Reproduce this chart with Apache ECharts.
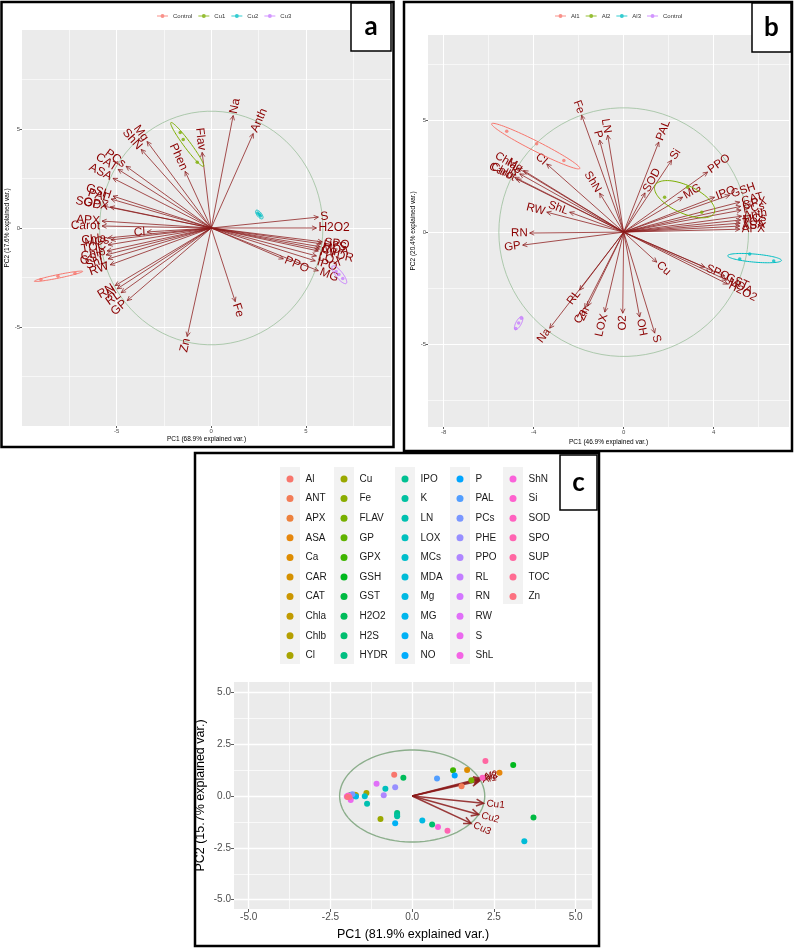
<!DOCTYPE html>
<html>
<head>
<meta charset="utf-8">
<title>PCA biplots</title>
<script src="https://cdn.jsdelivr.net/npm/echarts@6/dist/echarts.min.js"></script>
<style>
  html, body { margin: 0; padding: 0; background: #fff; }
  #main { width: 794px; height: 948px; }
</style>
</head>
<body>
<div id="main"></div>
<script>
// ---------- panel a : Cu ----------
var aVarNames = ['Mg','ShN','Phen','Flav','Na','Anth','PCs','CAT','ASA','GSH','PAL','SOD','GPX','APX','Carot','Cl','Chla','MCs','TOC','Chlb','GST','ShL','RW','RN','Al','RL','GP','Zn','Fe','S','H2O2','SPO','H2S','MDA','Cu','HYDR','LOX','IPO','PPO','MG'];
var aVarPC1 = [-3.39,-3.7,-1.38,-0.48,1.16,2.22,-4.5,-4.92,-5.19,-5.19,-5.29,-5.71,-5.34,-5.77,-5.77,-3.39,-5.45,-5.29,-5.45,-5.5,-5.56,-5.45,-5.34,-5.08,-4.97,-4.76,-4.44,-1.27,1.27,5.66,5.56,5.87,5.82,5.77,5.72,5.66,5.56,5.5,3.81,5.66];
var aVarPC2 = [4.37,3.97,2.86,3.82,5.68,4.77,3.12,2.96,2.51,1.61,1.46,1.11,1.06,0.35,0.1,-0.2,-0.5,-0.6,-0.85,-1.16,-1.36,-1.56,-1.86,-2.91,-3.07,-3.27,-3.67,-5.48,-3.72,0.55,0.0,-0.7,-0.8,-0.95,-1.06,-1.16,-1.41,-1.66,-1.56,-2.16];
var aGroups = ['Control','Cu1','Cu2','Cu3'];
var aObsPC1 = [[-9.0,-8.1,-7.2],[-1.64,-1.48,-0.74],[2.46,2.54,2.6],[6.6,6.75,6.95]];
var aObsPC2 = [[-2.6,-2.44,-2.28],[4.82,4.47,3.32],[0.76,0.68,0.6],[-2.2,-2.35,-2.55]];
var aEllCx = [-8.07,-1.27,2.54,6.77];
var aEllCy = [-2.44,4.22,0.68,-2.36];
var aEllRx = [1.3,1.4,0.27,0.57];
var aEllRy = [0.09,0.18,0.12,0.18];
var aEllRot = [11,-52,-50,-50];
var aCircleR = 5.9;
var aXLines = [-7.5,-5,-2.5,0,2.5,5,7.5];
var aYLines = [-7.5,-5,-2.5,0,2.5,5,7.5];
var aXTicks = [-5,0,5];
var aYTicks = [-5,0,5];

// ---------- panel b : Al ----------
var bVarNames = ['Fe','P','LN','Cl','ShN','Chla','Mg','K','Chlb','Carot','PAL','Si','SOD','PPO','MG','IPO','GSH','CAT','GPX','PCs','Anth','MCs','TOC','ASA','APX','Cu','SPO','GST','MDA','H2O2','LOX','O2','OH','S','RW','ShL','RN','GP','RL','Na','Ca','Zn'];
var bVarPC1 = [-1.87,-1.07,-0.71,-3.42,-1.07,-4.71,-4.45,-4.62,-4.85,-4.76,1.56,2.13,0.95,3.73,2.62,4.04,4.71,5.16,5.2,5.22,5.24,5.2,5.18,5.16,5.16,1.47,3.6,4.49,4.58,4.62,-0.84,-0.04,0.71,1.38,-3.42,-2.4,-4.18,-4.49,-1.96,-3.29,-1.73,-1.6];
var bVarPC2 = [5.22,4.11,4.33,3.04,1.74,2.86,2.75,2.6,2.45,2.37,4.02,3.21,1.75,2.68,1.56,1.56,1.65,1.34,1.15,0.98,0.71,0.54,0.4,0.27,0.13,-1.34,-1.56,-1.96,-2.14,-2.32,-3.57,-3.62,-3.79,-4.51,0.89,0.89,-0.04,-0.58,-2.59,-4.29,-3.39,-3.3];
var bGroups = ['Al1','Al2','Al3','Control '];
var bObsPC1 = [[-5.2,-3.87,-2.66],[1.82,2.84,3.47],[5.16,5.6,6.67],[-4.8,-4.67,-4.55]];
var bObsPC2 = [[4.5,3.95,3.2],[1.56,2.0,0.89],[-1.2,-0.98,-1.29],[-4.3,-4.06,-3.85]];
var bEllCx = [-3.91,2.71,5.82,-4.67];
var bEllCy = [3.84,1.47,-1.16,-4.06];
var bEllRx = [2.2,1.45,1.2,0.33];
var bEllRy = [0.22,0.62,0.18,0.12];
var bEllRot = [-27,-25,-5,62];
var bCircleR = 5.55;
var bXLines = [-8,-6,-4,-2,0,2,4,6];
var bYLines = [-7.5,-5,-2.5,0,2.5,5,7.5];
var bXTicks = [-8,-4,0,4];
var bYTicks = [-5,0,5];

// ---------- panel c ----------
var cNames = ['Al','ANT','APX','ASA','Ca','CAR','CAT','Chla','Chlb','Cl','Cu','Fe','FLAV','GP','GPX','GSH','GST','H2O2','H2S','HYDR','IPO','K','LN','LOX','MCs','MDA','Mg','MG','Na','NO','P','PAL','PCs','PHE','PPO','RL','RN','RW','S','ShL','ShN','Si','SOD','SPO','SUP','TOC','Zn'];
var cPC1 = [-0.55,1.51,-1.95,2.67,1.68,-1.8,-1.85,-1.75,-1.72,-1.4,-0.97,-1.78,1.81,-1.88,1.25,3.09,3.71,-0.27,0.61,-0.46,-0.46,-0.46,-1.38,-0.82,-1.45,3.43,0.31,-1.72,-0.52,-1.9,1.3,0.76,-1.83,-0.52,-0.87,-1.93,-1.97,-1.09,-1.88,-2.0,0.79,-1.95,2.15,1.08,2.24,-1.92,-1.98];
var cPC2 = [1.03,0.47,-0.02,1.12,1.26,0.02,-0.03,0.06,0.04,0.14,-1.11,0.0,0.76,0.05,1.24,1.5,-1.04,0.88,-1.37,-0.82,-0.9,-0.97,-0.37,0.35,-0.01,-2.18,-1.18,-0.02,-1.31,0.02,0.99,0.85,0.08,0.42,0.04,-0.03,0.0,0.59,-0.19,-0.02,-1.5,0.02,0.88,-1.68,1.69,-0.06,-0.05];
var cArrowNames = ['Al1','Al2','Al3','Cu1','Cu2','Cu3'];
var cArrowPC1 = [2.05,2.1,2.08,2.18,2.03,1.8];
var cArrowPC2 = [0.72,0.85,0.8,-0.35,-0.89,-1.32];
var cCircleR = 2.22;
var cLines = [-5,-3.75,-2.5,-1.25,0,1.25,2.5,3.75,5];
var cTicks = [-5,-2.5,0,2.5,5];

var FONT = '"Liberation Sans", Arial, Helvetica, sans-serif';
var ARROW = '#8b1a1a';
var LABEL = '#8b0000';
var GROUP_COLORS = ['#F8766D','#7CAE00','#00BFC4','#C77CFF'];

// ggplot hue palette (hcl, c=100, l=65)
function hcl2hex(h, c, l) {
  var hr = h * Math.PI / 180;
  var U = c * Math.cos(hr), V = c * Math.sin(hr);
  var Xn = 95.047, Yn = 100, Zn = 108.883;
  var d = Xn + 15 * Yn + 3 * Zn;
  var un = 4 * Xn / d, vn = 9 * Yn / d;
  var Y = l > 8 ? Yn * Math.pow((l + 16) / 116, 3) : Yn * l / 903.3;
  var u = U / (13 * l) + un, v = V / (13 * l) + vn;
  var X = Y * 9 * u / (4 * v);
  var Z = Y * (12 - 3 * u - 20 * v) / (4 * v);
  X /= 100; Y /= 100; Z /= 100;
  var rgb = [
    3.2404542 * X - 1.5371385 * Y - 0.4985314 * Z,
    -0.9692660 * X + 1.8760108 * Y + 0.0415560 * Z,
    0.0556434 * X - 0.2040259 * Y + 1.0572252 * Z
  ];
  return '#' + rgb.map(function (ch) {
    ch = ch <= 0.0031308 ? 12.92 * ch : 1.055 * Math.pow(ch, 1 / 2.4) - 0.055;
    ch = Math.max(0, Math.min(1, ch));
    var s = Math.round(ch * 255).toString(16);
    return s.length < 2 ? '0' + s : s;
  }).join('');
}
var cColors = cNames.map(function (n, i) { return hcl2hex((15 + i * 360 / cNames.length) % 360, 100, 65); });

// 箭头 + 旋转文字
function arrowRender(names, st) {
  return function (params, api) {
    var o = api.coord([0, 0]);
    var p = api.coord([api.value(0), api.value(1)]);
    var dx = p[0] - o[0], dy = p[1] - o[1];
    var len = Math.sqrt(dx * dx + dy * dy) || 1;
    var ux = dx / len, uy = dy / len;
    var h = st.head, c = Math.cos(Math.PI / 7), s = Math.sin(Math.PI / 7);
    var w1 = [p[0] - h * (ux * c - uy * s), p[1] - h * (uy * c + ux * s)];
    var w2 = [p[0] - h * (ux * c + uy * s), p[1] - h * (uy * c - ux * s)];
    var ang = Math.atan2(-dy, dx);
    if (ang > Math.PI / 2) ang -= Math.PI;
    else if (ang < -Math.PI / 2) ang += Math.PI;
    return {
      type: 'group',
      children: [
        { type: 'line', shape: { x1: o[0], y1: o[1], x2: p[0], y2: p[1] },
          style: { stroke: ARROW, lineWidth: st.width, opacity: 0.85 } },
        { type: 'polyline', shape: { points: [w1, p, w2] },
          style: { stroke: ARROW, lineWidth: st.width, fill: 'none', opacity: 0.85 } },
        { type: 'text', x: p[0] + ux * st.gap, y: p[1] + uy * st.gap, rotation: ang,
          style: { text: names[params.dataIndex], fill: LABEL, fontSize: st.font, fontFamily: FONT,
                   align: dx < 0 ? 'right' : 'left', verticalAlign: 'middle' } }
      ]
    };
  };
}

function ellipseRender(width) {
  return function (params, api) {
    var cx = api.value(0), cy = api.value(1), rx = api.value(2), ry = api.value(3);
    var t = api.value(4) * Math.PI / 180;
    var pts = [];
    for (var k = 0; k <= 90; k++) {
      var a = k / 90 * 2 * Math.PI;
      var ex = rx * Math.cos(a), ey = ry * Math.sin(a);
      pts.push(api.coord([cx + ex * Math.cos(t) - ey * Math.sin(t), cy + ex * Math.sin(t) + ey * Math.cos(t)]));
    }
    return { type: 'polyline', shape: { points: pts },
             style: { stroke: api.visual('color'), lineWidth: width, fill: 'none' } };
  };
}

function makeAxes(dim, grid, range, lines, majors, fmt, name, st) {
  var pos = dim === 'x' ? 'bottom' : 'left';
  var minor = {
    type: 'value', gridIndex: grid, min: range[0], max: range[1], position: pos,
    axisLine: { show: false, onZero: false }, axisLabel: { show: false },
    axisTick: { show: false, customValues: lines },
    splitLine: { show: true, lineStyle: { color: '#ffffff', width: st.minorW } }
  };
  var major = {
    type: 'value', gridIndex: grid, min: range[0], max: range[1], position: pos,
    axisLine: { show: false, onZero: false },
    axisTick: { show: true, customValues: majors, length: st.tickLen, lineStyle: { color: '#333', width: 0.8 } },
    axisLabel: { show: true, customValues: majors, formatter: fmt, fontSize: st.labelSize,
                 color: '#4d4d4d', margin: st.labelMargin, fontFamily: FONT },
    splitLine: { show: true, lineStyle: { color: '#ffffff', width: st.majorW } },
    name: name, nameLocation: 'middle', nameGap: dim === 'x' ? st.nameGapX : st.nameGapY,
    nameTextStyle: { fontSize: st.nameSize, color: '#000', fontFamily: FONT }
  };
  return [minor, major];
}

function intFmt(v) { return String(Math.round(v)); }
function decFmt(v) { return v.toFixed(1); }

var smallSt = { minorW: 0.6, majorW: 1, tickLen: 2, labelSize: 6, labelMargin: 2, nameSize: 6.5, nameGapX: 10, nameGapY: 9 };
var bigSt = { minorW: 0.7, majorW: 1.3, tickLen: 3, labelSize: 10, labelMargin: 3, nameSize: 12.5, nameGapX: 19, nameGapY: 27 };

var xAxes = [].concat(
  makeAxes('x', 0, [-10, 9.5], aXLines, aXTicks, intFmt, 'PC1 (68.9% explained var.)', smallSt),
  makeAxes('x', 1, [-8.7, 7.35], bXLines, bXTicks, intFmt, 'PC1 (46.9% explained var.)', Object.assign({}, smallSt, { nameGapX: 12 })),
  makeAxes('x', 2, [-5.45, 5.5], cLines, cTicks, decFmt, 'PC1 (81.9% explained var.)', bigSt)
);
var yAxes = [].concat(
  makeAxes('y', 0, [-10, 10], aYLines, aYTicks, intFmt, 'PC2 (17.6% explained var.)', smallSt),
  makeAxes('y', 1, [-8.7, 8.8], bYLines, bYTicks, intFmt, 'PC2 (20.4% explained var.)', Object.assign({}, smallSt, { nameGapY: 10 })),
  makeAxes('y', 2, [-5.45, 5.5], cLines, cTicks, decFmt, 'PC2 (15.7% explained var.)', bigSt)
);

function pairs(xs, ys) { return xs.map(function (x, i) { return [x, ys[i]]; }); }

var series = [];

function addBiplot(g, names, pc1, pc2, r, ellCx, ellCy, ellRx, ellRy, ellRot, groups, obs1, obs2, st) {
  var ax = g * 2;
  series.push({
    type: 'custom', xAxisIndex: ax, yAxisIndex: ax, silent: true,
    data: [[0, 0, r, r, 0]], itemStyle: { color: '#9cbf9c' },
    renderItem: ellipseRender(st.circleW)
  });
  series.push({
    type: 'custom', xAxisIndex: ax, yAxisIndex: ax, silent: true,
    data: pairs(pc1, pc2), renderItem: arrowRender(names, st)
  });
  if (groups) {
    series.push({
      type: 'custom', xAxisIndex: ax, yAxisIndex: ax, silent: true,
      data: ellCx.map(function (cx, i) {
        return { value: [cx, ellCy[i], ellRx[i], ellRy[i], ellRot[i]], itemStyle: { color: GROUP_COLORS[i] } };
      }),
      renderItem: ellipseRender(1)
    });
    groups.forEach(function (gName, i) {
      series.push({
        name: gName, type: 'scatter', xAxisIndex: ax, yAxisIndex: ax,
        symbolSize: 3.5, itemStyle: { color: GROUP_COLORS[i] },
        data: pairs(obs1[i], obs2[i])
      });
    });
  }
}

addBiplot(0, aVarNames, aVarPC1, aVarPC2, aCircleR, aEllCx, aEllCy, aEllRx, aEllRy, aEllRot,
          aGroups, aObsPC1, aObsPC2, { head: 5, width: 0.9, gap: 2, font: 12, circleW: 0.8 });
addBiplot(1, bVarNames, bVarPC1, bVarPC2, bCircleR, bEllCx, bEllCy, bEllRx, bEllRy, bEllRot,
          bGroups, bObsPC1, bObsPC2, { head: 5, width: 0.9, gap: 2, font: 11.5, circleW: 0.8 });

// panel c : points then loadings
cNames.forEach(function (n, i) {
  series.push({
    name: n, type: 'scatter', xAxisIndex: 4, yAxisIndex: 4, symbolSize: 6,
    itemStyle: { color: cColors[i], opacity: 1 }, data: [[cPC1[i], cPC2[i]]]
  });
});
series.push({
  type: 'custom', xAxisIndex: 4, yAxisIndex: 4, silent: true,
  data: [[0, 0, cCircleR, cCircleR, 0]], itemStyle: { color: '#8cae8c' },
  renderItem: ellipseRender(1.4)
});
series.push({
  type: 'custom', xAxisIndex: 4, yAxisIndex: 4, silent: true,
  data: pairs(cArrowPC1, cArrowPC2),
  renderItem: arrowRender(cArrowNames, { head: 8, width: 1.6, gap: 3, font: 10 })
});

var groupIcon = 'path://M0,2h11v1H0z M5.5,0.5a2,2 0 1,1 0,4a2,2 0 1,1 0,-4z';
function groupLegend(names, left) {
  return {
    data: names.map(function (n) { return { name: n, icon: groupIcon }; }),
    left: left, top: 13, padding: 0, orient: 'horizontal', itemWidth: 11, itemHeight: 4, itemGap: 6,
    textStyle: { fontSize: 6, color: '#333', fontFamily: FONT }, selectedMode: false
  };
}

var colLeft = [280, 334, 395, 450, 503];
var legends = [groupLegend(aGroups, 157), groupLegend(bGroups, 555)];
for (var k = 0; k < 5; k++) {
  legends.push({
    data: cNames.slice(k * 10, k * 10 + 10),
    orient: 'vertical', left: colLeft[k] + 6.5, top: 473, padding: 0,
    itemWidth: 7, itemHeight: 7, itemGap: 7.6, icon: 'circle', selectedMode: false,
    textStyle: { fontSize: 10, lineHeight: 12, color: '#1a1a1a', fontFamily: FONT, padding: [0, 0, 0, 7] }
  });
}

var graphics = [];
colLeft.forEach(function (x, k) {
  graphics.push({ type: 'rect', z: 0, shape: { x: x, y: 467, width: 20, height: k < 4 ? 197 : 137 },
                  style: { fill: '#f2f2f2' } });
});
[[1.5, 2, 392, 445], [404, 2, 388, 449], [195, 453, 404, 493]].forEach(function (r) {
  graphics.push({ type: 'rect', z: 100, shape: { x: r[0], y: r[1], width: r[2], height: r[3] },
                  style: { fill: 'none', stroke: '#000', lineWidth: 2.5 } });
});
[['a', 351, 3, 40, 48], ['b', 752, 3, 39, 49], ['c', 560, 455, 37, 55]].forEach(function (b) {
  graphics.push({ type: 'rect', z: 101, shape: { x: b[1], y: b[2], width: b[3], height: b[4] },
                  style: { fill: '#fff', stroke: '#000', lineWidth: 1.5 } });
  graphics.push({ type: 'text', z: 102, x: b[1] + b[3] / 2, y: b[2] + b[4] / 2,
                  style: { text: b[0], fill: '#000', font: 'bold 26px Lato, "Open Sans", sans-serif',
                           align: 'center', verticalAlign: 'middle' } });
});

var chart = echarts.init(document.getElementById('main'), null, { renderer: 'canvas' });
chart.setOption({
  backgroundColor: '#ffffff',
  animation: false,
  textStyle: { fontFamily: FONT },
  grid: [
    { left: 22, top: 30, width: 369, height: 396, show: true, backgroundColor: '#ebebeb', borderWidth: 0 },
    { left: 428, top: 35, width: 361, height: 392, show: true, backgroundColor: '#ebebeb', borderWidth: 0 },
    { left: 234, top: 682, width: 358, height: 227, show: true, backgroundColor: '#ebebeb', borderWidth: 0 }
  ],
  xAxis: xAxes,
  yAxis: yAxes,
  legend: legends,
  graphic: graphics,
  series: series
});
</script>
</body>
</html>
